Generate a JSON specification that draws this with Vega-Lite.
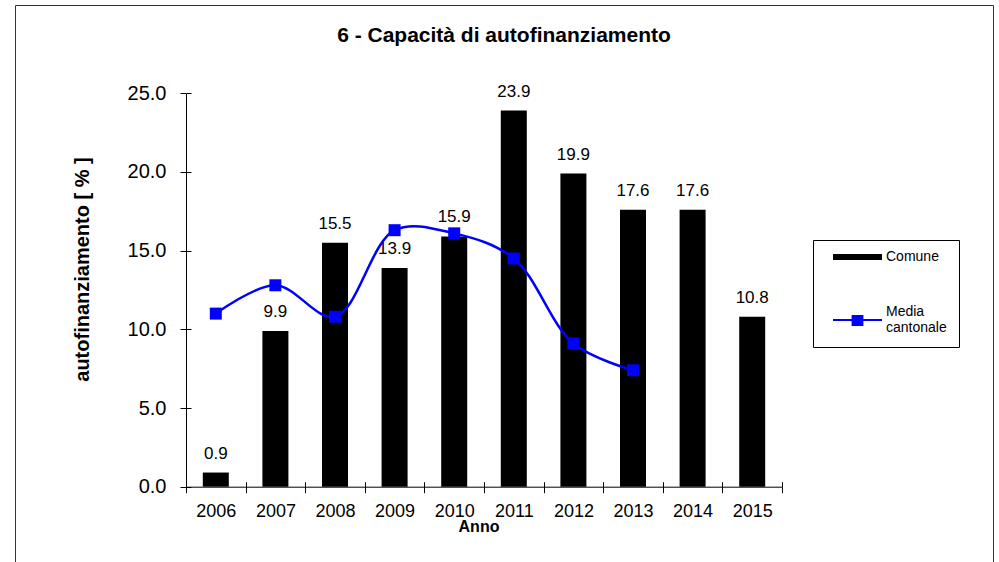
{
  "$schema": "https://vega.github.io/schema/vega-lite/v6.json",
  "autosize": {"type": "none"},
  "padding": {"left": 15, "top": 5, "right": 6, "bottom": 0},
  "width": 978,
  "height": 558,
  "background": "white",
  "title": {
    "text": "6 - Capacità di autofinanziamento",
    "font": "Liberation Sans",
    "fontSize": 21,
    "fontWeight": "bold",
    "color": "black",
    "anchor": "middle",
    "frame": "group",
    "baseline": "alphabetic",
    "offset": -58
  },
  "data": {
    "values": [
      {"anno": "2006", "serie": "Comune", "valore": 0.9},
      {"anno": "2007", "serie": "Comune", "valore": 9.9},
      {"anno": "2008", "serie": "Comune", "valore": 15.5},
      {"anno": "2009", "serie": "Comune", "valore": 13.9},
      {"anno": "2010", "serie": "Comune", "valore": 15.9},
      {"anno": "2011", "serie": "Comune", "valore": 23.9},
      {"anno": "2012", "serie": "Comune", "valore": 19.9},
      {"anno": "2013", "serie": "Comune", "valore": 17.6},
      {"anno": "2014", "serie": "Comune", "valore": 17.6},
      {"anno": "2015", "serie": "Comune", "valore": 10.8},
      {"anno": "2006", "serie": "Media cantonale", "valore": 11.0},
      {"anno": "2007", "serie": "Media cantonale", "valore": 12.8},
      {"anno": "2008", "serie": "Media cantonale", "valore": 10.8},
      {"anno": "2009", "serie": "Media cantonale", "valore": 16.3},
      {"anno": "2010", "serie": "Media cantonale", "valore": 16.1},
      {"anno": "2011", "serie": "Media cantonale", "valore": 14.5},
      {"anno": "2012", "serie": "Media cantonale", "valore": 9.1},
      {"anno": "2013", "serie": "Media cantonale", "valore": 7.4}
    ]
  },
  "encoding": {
    "x": {
      "field": "anno",
      "type": "ordinal",
      "scale": {"range": [171, 767], "paddingInner": 0, "paddingOuter": 0},
      "axis": {
        "orient": "bottom",
        "title": "Anno",
        "titleFont": "Liberation Sans",
        "titleFontSize": 16,
        "titleFontWeight": "bold",
        "titleColor": "black",
        "titleX": 463.5,
        "titleY": 44.3,
        "titleBaseline": "alphabetic",
        "titleAlign": "center",
        "labelFont": "Liberation Sans",
        "labelFontSize": 18,
        "labelColor": "black",
        "labelAngle": 0,
        "labelBaseline": "alphabetic",
        "labelPadding": 24,
        "labelOverlap": false,
        "tickBand": "extent",
        "tickSize": 6,
        "tickColor": "black",
        "domainColor": "black",
        "offset": -76.3
      }
    },
    "y": {
      "field": "valore",
      "type": "quantitative",
      "scale": {"domain": [0, 25], "range": [481.7, 88.3], "nice": false},
      "axis": {
        "orient": "left",
        "title": "autofinanziamento [ % ]",
        "titleFont": "Liberation Sans",
        "titleFontSize": 20,
        "titleFontWeight": "bold",
        "titleColor": "black",
        "titleAngle": -90,
        "titleX": -98,
        "titleY": 264,
        "titleBaseline": "alphabetic",
        "titleAlign": "center",
        "values": [0, 5, 10, 15, 20, 25],
        "format": ".1f",
        "labelFont": "Liberation Sans",
        "labelFontSize": 20,
        "labelColor": "black",
        "labelPadding": 14,
        "labelFlush": false,
        "tickSize": 6,
        "tickColor": "black",
        "domainColor": "black",
        "grid": false,
        "offset": -171
      }
    },
    "color": {
      "field": "serie",
      "type": "nominal",
      "scale": {"domain": ["Comune", "Media cantonale"], "range": ["#000000", "#0000ff"]},
      "legend": {
        "orient": "none",
        "legendX": 798,
        "legendY": 235,
        "title": null,
        "strokeColor": "black",
        "fillColor": "white",
        "padding": 12,
        "symbolSize": 2401,
        "clipHeight": 10,
        "rowPadding": 41,
        "labelFont": "Liberation Sans",
        "labelFontSize": 14,
        "labelColor": "black",
        "labelLimit": 200,
        "labelExpr": "datum.value == 'Media cantonale' ? ['Media', 'cantonale'] : datum.label",
        "encode": {
          "symbols": {
            "update": {
              "x": {"value": 32.5},
              "size": {"value": 2401},
              "shape": {"signal": "datum.value == 'Comune' ? 'M-1,-0.12H1V0.12H-1Z' : 'M-1,0H1M-0.2,-0.2H0.2V0.2H-0.2Z'"},
              "fill": {"signal": "datum.value == 'Comune' ? '#000000' : '#0000ff'"},
              "stroke": {"signal": "datum.value == 'Comune' ? '#000000' : '#0000ff'"},
              "strokeWidth": {"signal": "datum.value == 'Comune' ? 0 : 2"}
            }
          },
          "labels": {
            "update": {
              "x": {"value": 61},
              "dy": {"signal": "datum.value == 'Media cantonale' ? -8 : 0"}
            }
          }
        }
      }
    }
  },
  "layer": [
    {
      "transform": [{"filter": "datum.serie == 'Comune'"}],
      "mark": {"type": "bar", "size": 26}
    },
    {
      "transform": [{"filter": "datum.serie == 'Comune'"}],
      "mark": {"type": "text", "baseline": "alphabetic", "dy": -14, "font": "Liberation Sans", "fontSize": 17},
      "encoding": {
        "x": {"field": "anno", "type": "ordinal", "axis": null},
        "y": {"field": "valore", "type": "quantitative", "axis": null},
        "text": {"field": "valore", "type": "quantitative", "format": ".1f"}
      }
    },
    {
      "transform": [{"filter": "datum.serie == 'Media cantonale'"}],
      "mark": {"type": "line", "interpolate": "catmull-rom", "strokeWidth": 2.5},
      "encoding": {
        "x": {"field": "anno", "type": "ordinal", "axis": null},
        "y": {"field": "valore", "type": "quantitative", "axis": null}
      }
    },
    {
      "transform": [{"filter": "datum.serie == 'Media cantonale'"}],
      "mark": {"type": "point", "shape": "square", "filled": true, "size": 144},
      "encoding": {
        "x": {
          "field": "anno",
          "type": "ordinal",
          "axis": {"orient": "bottom", "offset": -76.3, "tickBand": "extent", "tickSize": -5, "tickColor": "black", "labels": false, "domain": false, "title": null}
        },
        "y": {
          "field": "valore",
          "type": "quantitative",
          "axis": {"orient": "left", "offset": -171, "values": [0, 5, 10, 15, 20, 25], "tickSize": -5, "tickColor": "black", "labels": false, "domain": false, "grid": false, "title": null}
        }
      }
    }
  ],
  "resolve": {"axis": {"x": "independent", "y": "independent"}},
  "config": {
    "view": {"stroke": "#333333"},
    "point": {"opacity": 1}
  }
}
